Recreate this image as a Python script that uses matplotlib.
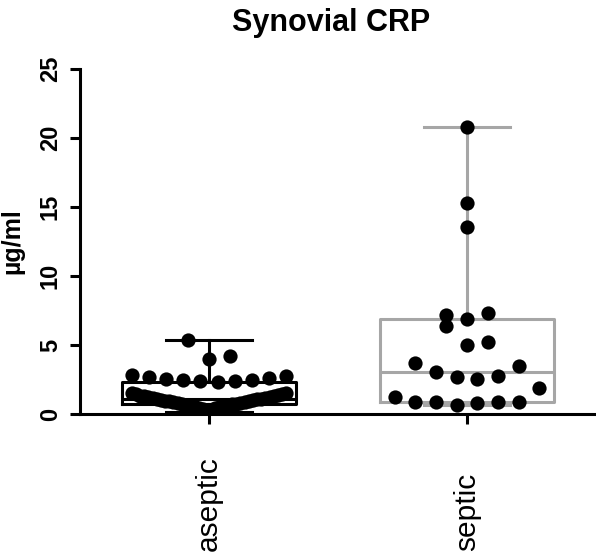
import numpy as np
import matplotlib
matplotlib.use("Agg")
import matplotlib.pyplot as plt

plt.rcParams['font.family'] = ['Liberation Sans', 'DejaVu Sans']

# ---------------- data ----------------
title = "Synovial CRP"
ylabel = "µg/ml"
categories = ["aseptic", "septic"]
yticks = [0, 5, 10, 15, 20, 25]

aseptic = [0.18, 0.28, 0.36, 0.42, 0.47, 0.51, 0.55, 0.58, 0.61, 0.64,
           0.67, 0.70, 0.73, 0.76, 0.79, 0.82, 0.85, 0.88, 0.91, 0.94,
           0.97, 1.00, 1.03, 1.06, 1.09, 1.12, 1.15, 1.18, 1.21, 1.24,
           1.27, 1.30, 1.34, 1.38, 1.42, 1.46, 1.50, 1.55,
           2.33, 2.36, 2.40, 2.45, 2.50, 2.56, 2.62, 2.70, 2.76, 2.83,
           3.96, 4.20, 5.36]

septic = [0.68, 0.77, 0.85, 0.85, 0.85, 0.89, 1.25, 1.86,
          2.51, 2.70, 2.78, 3.02, 3.48, 3.67,
          5.00, 5.24, 6.38, 6.88, 7.17, 7.30,
          13.57, 15.31, 20.78]

groups = [aseptic, septic]
box_colors = ["black", "#a6a6a6"]


def swarm_offsets(values, row_height, spacing, max_half):
    """GraphPad-like scatter layout: bin values into rows, arrange each row
    centre-out (lowest values in the middle), alternating sides."""
    vals = np.asarray(values, float)
    order = np.argsort(vals, kind="stable")
    offsets = np.zeros(len(vals))
    i = 0
    r = 0
    while i < len(order):
        start = vals[order[i]]
        j = i
        while j < len(order) and vals[order[j]] < start + row_height:
            j += 1
        row = order[i:j]
        n = len(row)
        step = spacing if n < 2 else min(spacing, 2 * max_half / (n - 1))
        sgn = -1 if (r + n) % 2 == 0 else 1
        if n % 2:
            slots = [0] + [s for k in range(1, n // 2 + 1)
                           for s in (sgn * k, -sgn * k)]
        else:
            slots = [s for k in range(n // 2)
                     for s in (sgn * (k + 0.5), -sgn * (k + 0.5))]
        for idx, s in zip(row, slots):
            offsets[idx] = s * step
        i = j
        r += 1
    return offsets


fig = plt.figure(figsize=(5.96, 5.53), dpi=100)
ax = fig.add_axes([80 / 596, (553 - 414) / 553, 516 / 596, 345 / 553])

lw = 2.2
for pos, (vals, col) in enumerate(zip(groups, box_colors)):
    v = np.asarray(vals, float)
    q1, med, q3 = np.percentile(v, [25, 50, 75], method="weibull")
    stats = [dict(med=med, q1=q1, q3=q3, whislo=v.min(), whishi=v.max(),
                  fliers=[])]
    ax.bxp(stats, positions=[pos], widths=0.675, capwidths=0.33,
           showfliers=False, manage_ticks=False,
           boxprops=dict(color=col, linewidth=lw),
           whiskerprops=dict(color=col, linewidth=lw),
           capprops=dict(color=col, linewidth=lw),
           medianprops=dict(color=col, linewidth=lw),
           zorder=2)
    offs = swarm_offsets(v, row_height=1.45, spacing=0.08, max_half=0.30)
    ax.scatter(pos + offs, v, s=105, c="black", linewidths=0, zorder=3)

ax.set_xlim(-0.5, 1.5)
ax.set_ylim(0, 25)

for side in ("top", "right"):
    ax.spines[side].set_visible(False)
for side in ("left", "bottom"):
    ax.spines[side].set_linewidth(lw)

ax.tick_params(axis="both", direction="out", length=7, width=lw)
ax.set_yticks(yticks, labels=[str(t) for t in yticks], rotation=90,
              va="center", fontsize=17, fontweight="bold")
ax.tick_params(axis="y", pad=6)
ax.set_xticks([0, 1], labels=categories, rotation=90, rotation_mode="anchor",
              ha="left", va="center", fontsize=21.5)
ax.tick_params(axis="x", pad=91.5)

ax.set_title(title, fontsize=22, fontweight="bold", pad=27, x=0.487)
ax.set_ylabel(ylabel, fontsize=18, fontweight="bold")
ax.yaxis.set_label_coords(-0.1085, 0.5)

fig.savefig("out.png", dpi=100)
